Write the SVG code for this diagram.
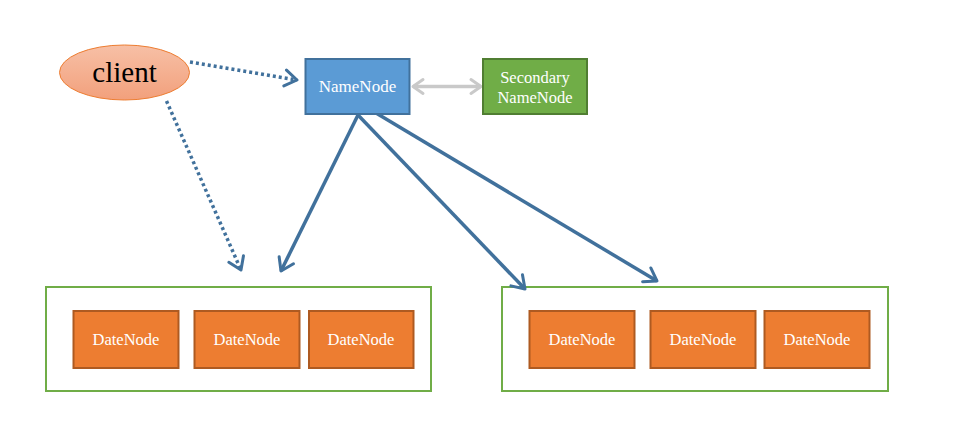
<svg xmlns="http://www.w3.org/2000/svg" width="954" height="440" viewBox="0 0 954 440">
<defs>
<linearGradient id="cg" x1="0" y1="0" x2="0" y2="1">
<stop offset="0" stop-color="#F7C0A6"/>
<stop offset="1" stop-color="#F2A07C"/>
</linearGradient>
<marker id="ah" viewBox="0 0 20 20" refX="16" refY="10" markerWidth="20" markerHeight="20" markerUnits="userSpaceOnUse" orient="auto">
<path d="M4,2 L16,10 L4,18" fill="none" stroke="#41719C" stroke-width="3" stroke-linecap="round" stroke-linejoin="round"/>
</marker>
<marker id="ahg" viewBox="0 0 20 20" refX="16" refY="10" markerWidth="20" markerHeight="20" markerUnits="userSpaceOnUse" orient="auto-start-reverse">
<path d="M6,3 L16,10 L6,17" fill="none" stroke="#C9C9C9" stroke-width="3" stroke-linecap="round" stroke-linejoin="round"/>
</marker>
</defs>
<style>
.t{font-family:"Liberation Serif","Times New Roman",serif;fill:#fff;text-anchor:middle;dominant-baseline:central;font-size:16.5px}
.dn rect{fill:#ED7D31;stroke:#AE5A21;stroke-width:2}
.grp{fill:none;stroke:#70AD47;stroke-width:2}
.sol{stroke:#41719C;stroke-width:3.5;fill:none;marker-end:url(#ah)}
.dot{stroke:#41719C;stroke-width:3.5;fill:none;stroke-dasharray:3 3;marker-end:url(#ah)}
</style>
<rect width="954" height="440" fill="#fff"/>
<g id="group1"><rect class="grp" x="46" y="287" width="385" height="104"/></g>
<g id="group2"><rect class="grp" x="502" y="287" width="386" height="104"/></g>
<g id="connectors">
<line class="dot" x1="190" y1="62" x2="297" y2="80"/>
<line class="dot" x1="166.5" y1="101" x2="241" y2="270"/>
<line class="sol" x1="358" y1="115" x2="281" y2="271"/>
<line class="sol" x1="358" y1="115" x2="525" y2="289"/>
<line class="sol" x1="376" y1="113" x2="657" y2="281"/>
<line x1="413" y1="86.5" x2="481" y2="86.5" stroke="#C9C9C9" stroke-width="3.5" marker-start="url(#ahg)" marker-end="url(#ahg)"/>
</g>
<g id="client">
<ellipse cx="124.5" cy="72.5" rx="65" ry="27.5" fill="url(#cg)" stroke="#ED7D31" stroke-width="1"/>
<text x="124.5" y="72" class="t" style="fill:#000;font-size:29px">client</text>
</g>
<g id="namenode">
<rect x="305.5" y="59" width="104" height="55" fill="#5B9BD5" stroke="#41719C" stroke-width="2"/>
<text x="357.5" y="86.5" class="t" style="font-size:17px">NameNode</text>
</g>
<g id="secondary">
<rect x="483" y="59" width="104" height="55" fill="#70AD47" stroke="#507E32" stroke-width="2"/>
<text x="535" y="77" class="t">Secondary</text>
<text x="535" y="97" class="t">NameNode</text>
</g>
<g id="dn1" class="dn"><rect x="73.5" y="311" width="105" height="57"/><text x="126" y="339" class="t">DateNode</text></g>
<g id="dn2" class="dn"><rect x="194.5" y="311" width="105" height="57"/><text x="247" y="339" class="t">DateNode</text></g>
<g id="dn3" class="dn"><rect x="309" y="311" width="104.5" height="57"/><text x="361" y="339" class="t">DateNode</text></g>
<g id="dn4" class="dn"><rect x="529.5" y="311" width="105" height="57"/><text x="582" y="339" class="t">DateNode</text></g>
<g id="dn5" class="dn"><rect x="650.5" y="311" width="105" height="57"/><text x="703" y="339" class="t">DateNode</text></g>
<g id="dn6" class="dn"><rect x="764.5" y="311" width="105" height="57"/><text x="817" y="339" class="t">DateNode</text></g>
</svg>
